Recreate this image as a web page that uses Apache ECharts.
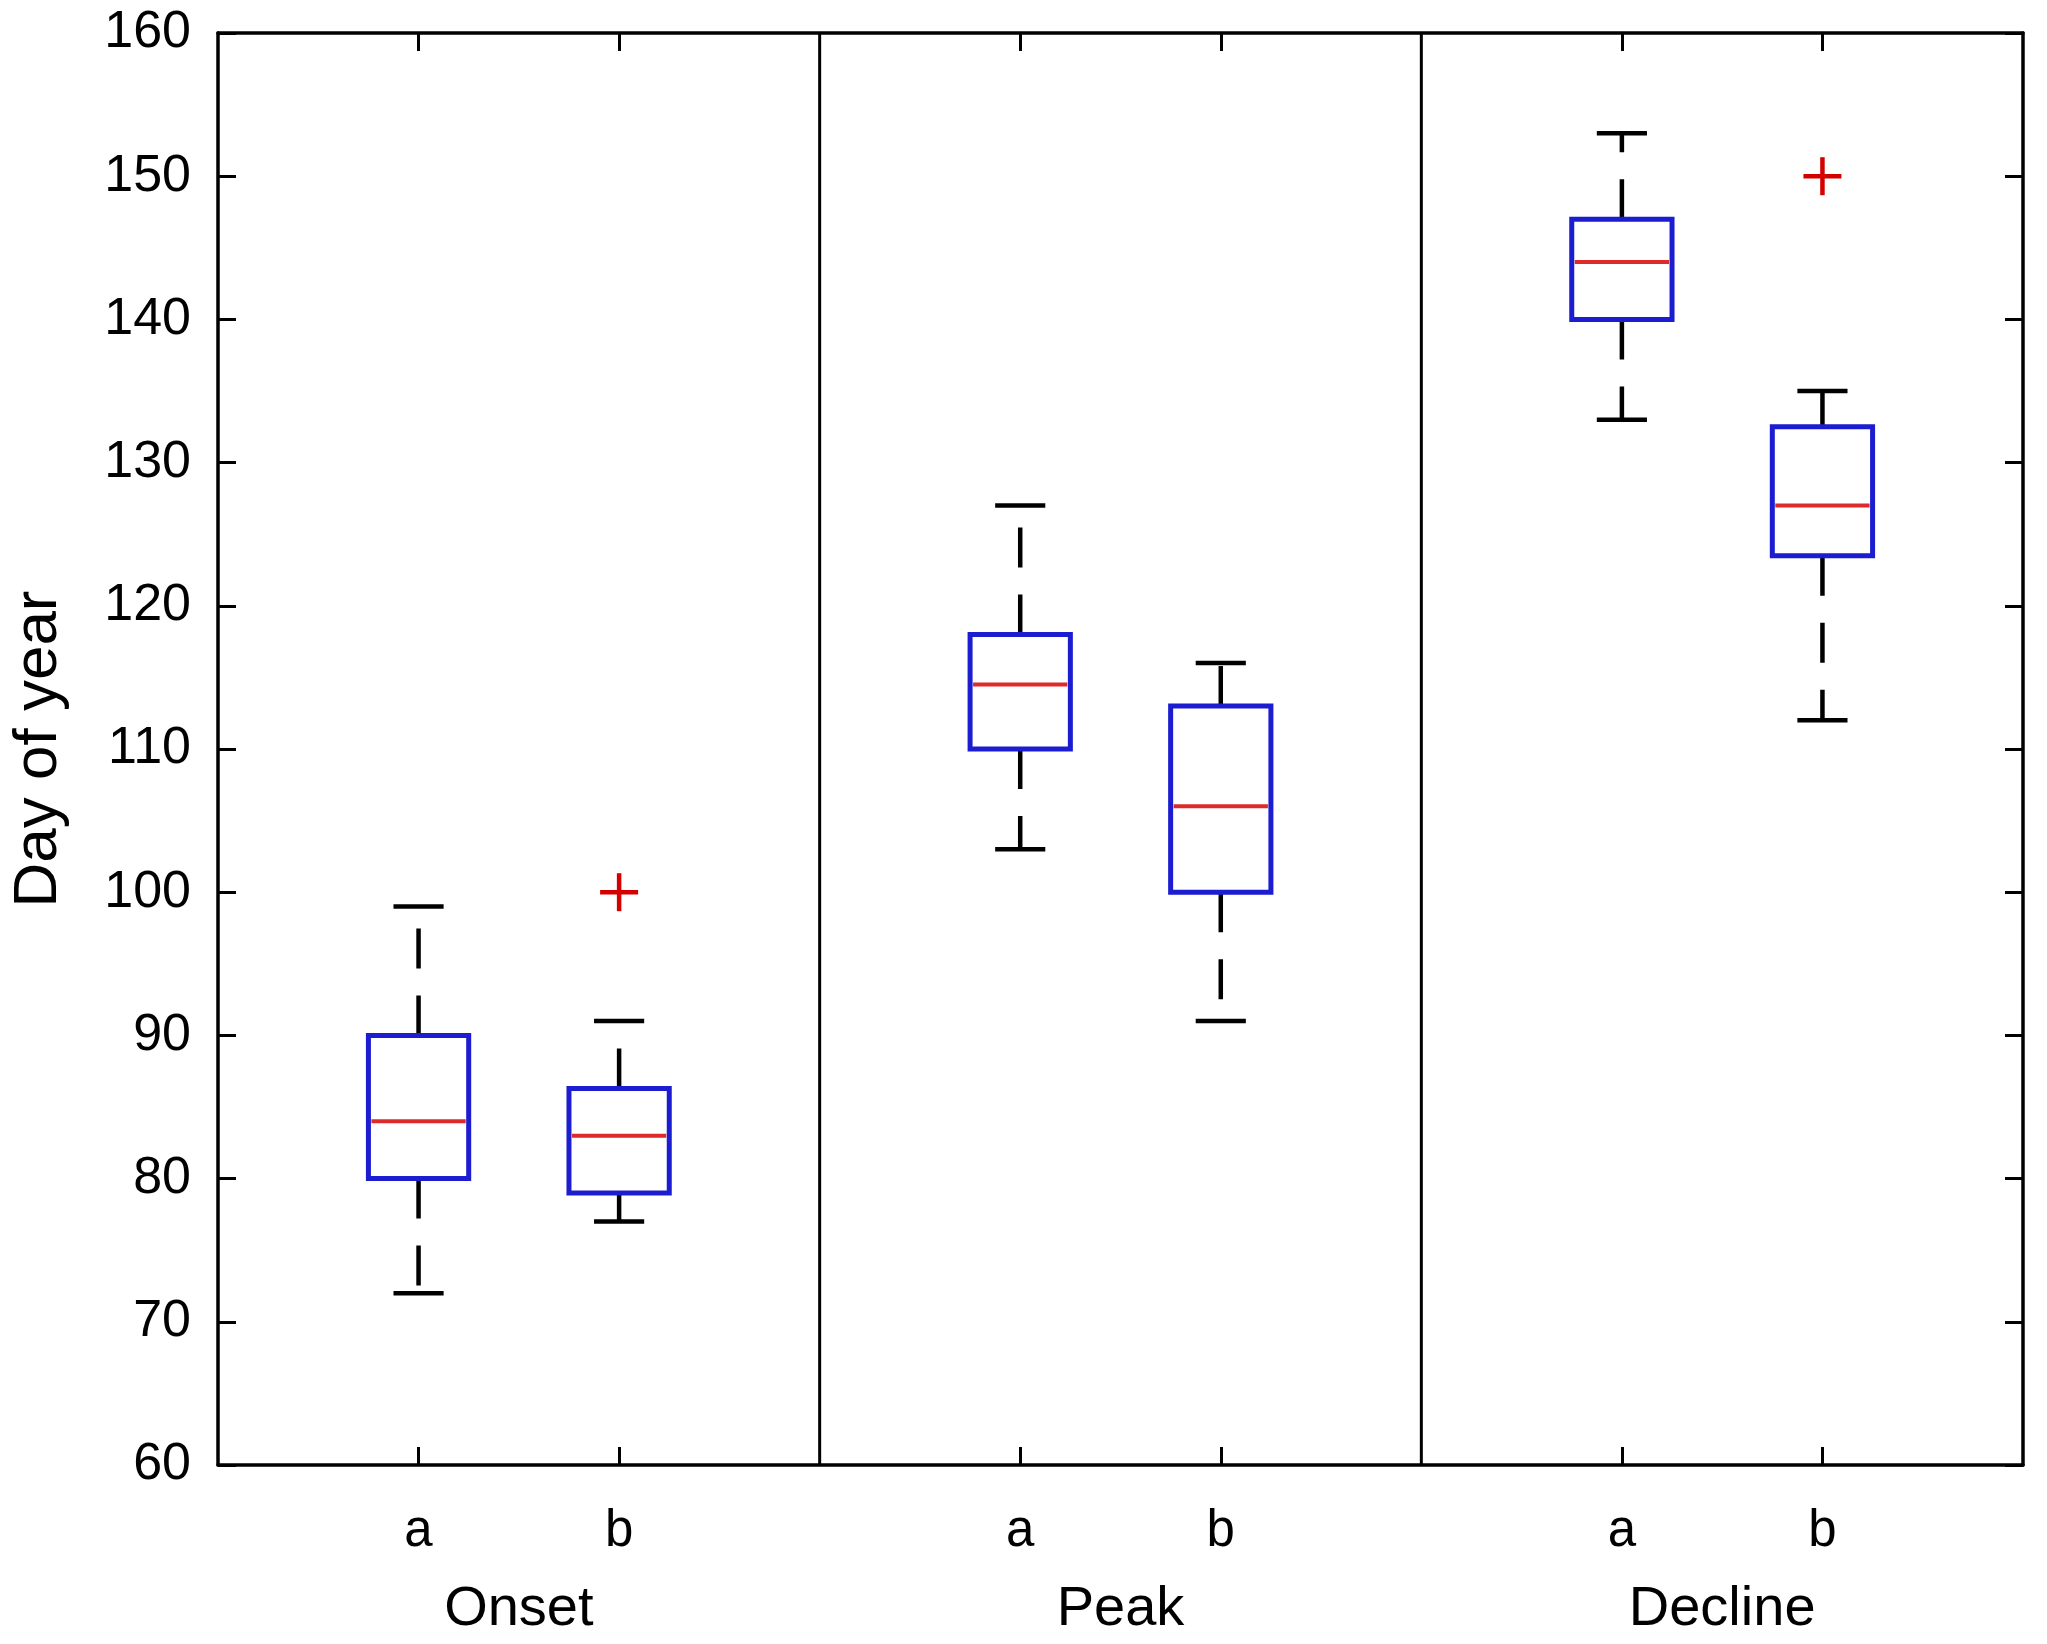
<!DOCTYPE html>
<html>
<head>
<meta charset="utf-8">
<script src="https://cdn.jsdelivr.net/npm/echarts@6/dist/echarts.min.js"></script>
<style>
  html, body { margin: 0; padding: 0; background: #fff; }
  #chart { width: 2047px; height: 1644px; }
</style>
</head>
<body>
<div id="chart"></div>
<script>
// box positions on the x scale and their labels
var positions = [1, 2, 4, 5, 7, 8];
var subLabels = ['a', 'b', 'a', 'b', 'a', 'b'];
var groupCenters = [1.5, 4.5, 7.5];
var groupLabels = ['Onset', 'Peak', 'Decline'];
var dividers = [3, 6];

// five-number summaries (day of year)
var lowWhisker = [72, 77, 103, 91, 133, 112];
var q1 = [80, 79, 110, 100, 140, 123.5];
var median = [84, 83, 114.5, 106, 144, 127];
var q3 = [90, 86.3, 118, 113, 147, 132.5];
var highWhisker = [99, 91, 127, 116, 153, 135];

// outliers: [x position, value]
var outlierX = [2, 8];
var outlierY = [100, 150];

var yTicks = [60, 70, 80, 90, 100, 110, 120, 130, 140, 150, 160];

var font = 'Liberation Sans, Arial, Helvetica, sans-serif';
var boxColor = '#1c1cd0';
var medianColor = '#dd2a2a';
var ink = '#000';
var boxWidth = 0.5;
var capWidth = 0.25;

var boxData = positions.map(function(p, i) {
  return [p, lowWhisker[i], q1[i], median[i], q3[i], highWhisker[i]];
});
var outlierData = outlierX.map(function(x, i) { return [x, outlierY[i]]; });

function renderBox(params, api) {
  var x = api.value(0);
  var lo = api.coord([x, api.value(1)]);
  var b1 = api.coord([x, api.value(2)]);
  var md = api.coord([x, api.value(3)]);
  var b3 = api.coord([x, api.value(4)]);
  var hi = api.coord([x, api.value(5)]);
  var hb = api.size([boxWidth, 0])[0] / 2;
  var hc = api.size([capWidth, 0])[0] / 2;
  var dashed = { stroke: ink, lineWidth: 4.5, lineDash: [40, 27] };
  var solid = { stroke: ink, lineWidth: 4.5 };
  return {
    type: 'group',
    children: [
      { type: 'line', shape: { x1: b3[0], y1: b3[1], x2: hi[0], y2: hi[1] }, style: dashed },
      { type: 'line', shape: { x1: b1[0], y1: b1[1], x2: lo[0], y2: lo[1] }, style: dashed },
      { type: 'line', shape: { x1: hi[0] - hc, y1: hi[1], x2: hi[0] + hc, y2: hi[1] }, style: solid },
      { type: 'line', shape: { x1: lo[0] - hc, y1: lo[1], x2: lo[0] + hc, y2: lo[1] }, style: solid },
      { type: 'rect', shape: { x: b3[0] - hb, y: b3[1], width: hb * 2, height: b1[1] - b3[1] },
        style: { fill: '#fff', stroke: boxColor, lineWidth: 5 } },
      { type: 'line', shape: { x1: md[0] - hb + 3, y1: md[1], x2: md[0] + hb - 3, y2: md[1] },
        style: { stroke: medianColor, lineWidth: 4 } }
    ]
  };
}

function renderOutlier(params, api) {
  var c = api.coord([api.value(0), api.value(1)]);
  var h = 19;
  var st = { stroke: '#d40000', lineWidth: 4.5 };
  return {
    type: 'group',
    children: [
      { type: 'line', shape: { x1: c[0] - h, y1: c[1], x2: c[0] + h, y2: c[1] }, style: st },
      { type: 'line', shape: { x1: c[0], y1: c[1] - h, x2: c[0], y2: c[1] + h }, style: st }
    ]
  };
}

function renderDivider(params, api) {
  var x = api.value(0);
  var top = api.coord([x, yTicks[yTicks.length - 1]]);
  var bottom = api.coord([x, yTicks[0]]);
  return {
    type: 'line',
    shape: { x1: top[0], y1: top[1], x2: bottom[0], y2: bottom[1] },
    style: { stroke: ink, lineWidth: 3 }
  };
}

function axisLine() {
  return { show: true, onZero: false, lineStyle: { color: ink, width: 3.5 } };
}
function ticks(custom) {
  var t = { show: true, inside: true, length: 18, lineStyle: { color: ink, width: 3 } };
  if (custom) t.customValues = custom;
  return t;
}

var chart = echarts.init(document.getElementById('chart'), null, { renderer: 'canvas' });
chart.setOption({
  animation: false,
  backgroundColor: '#fff',
  grid: { left: 207, right: 24, top: 33, bottom: 179, containLabel: false },
  xAxis: [
    {
      type: 'value', position: 'bottom', min: 0, max: 9,
      axisLine: axisLine(),
      axisTick: ticks(positions),
      axisLabel: {
        customValues: positions, margin: 41,
        color: ink, fontFamily: font, fontSize: 51,
        formatter: function(v) { return subLabels[positions.indexOf(v)]; }
      },
      splitLine: { show: false }
    },
    {
      type: 'value', position: 'top', min: 0, max: 9,
      axisLine: axisLine(),
      axisTick: ticks(positions),
      axisLabel: { show: false },
      splitLine: { show: false }
    },
    {
      type: 'value', position: 'bottom', min: 0, max: 9,
      axisLine: { show: false },
      axisTick: { show: false },
      axisLabel: {
        customValues: groupCenters, margin: 117,
        color: ink, fontFamily: font, fontSize: 56,
        formatter: function(v) { return groupLabels[groupCenters.indexOf(v)]; }
      },
      splitLine: { show: false }
    }
  ],
  yAxis: [
    {
      type: 'value', position: 'left', min: 60, max: 160, interval: 10,
      name: 'Day of year', nameLocation: 'middle', nameGap: 148,
      nameTextStyle: { color: ink, fontFamily: font, fontSize: 62 },
      axisLine: axisLine(),
      axisTick: ticks(yTicks),
      axisLabel: { color: ink, fontFamily: font, fontSize: 52, margin: 27 },
      splitLine: { show: false }
    },
    {
      type: 'value', position: 'right', min: 60, max: 160, interval: 10,
      axisLine: axisLine(),
      axisTick: ticks(yTicks),
      axisLabel: { show: false },
      splitLine: { show: false }
    }
  ],
  series: [
    {
      type: 'custom', xAxisIndex: 0, yAxisIndex: 0,
      renderItem: renderDivider,
      data: dividers.map(function(d) { return [d]; }),
      encode: { x: 0 },
      silent: true
    },
    {
      type: 'custom', xAxisIndex: 0, yAxisIndex: 0,
      renderItem: renderBox,
      data: boxData,
      encode: { x: 0, y: [1, 2, 3, 4, 5] },
      silent: true
    },
    {
      type: 'custom', xAxisIndex: 0, yAxisIndex: 0,
      renderItem: renderOutlier,
      data: outlierData,
      encode: { x: 0, y: 1 },
      silent: true
    }
  ]
});
window.addEventListener('resize', function() { chart.resize(); });
</script>
</body>
</html>
